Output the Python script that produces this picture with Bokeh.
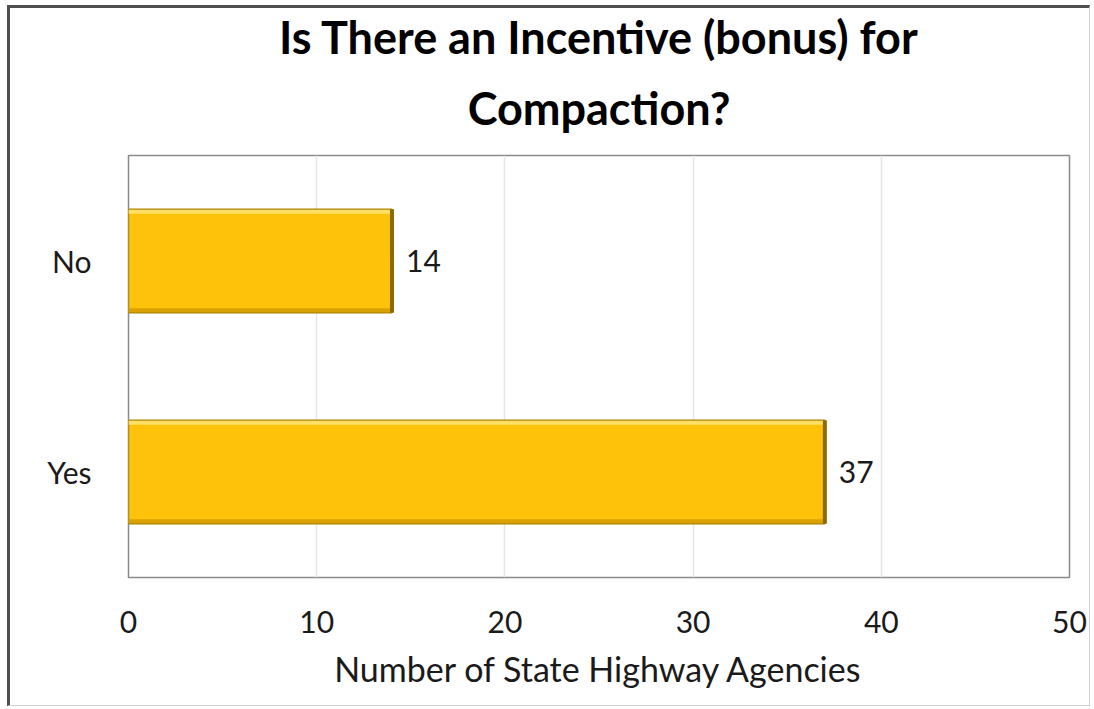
from bokeh.plotting import figure
from bokeh.layouts import column
from bokeh.models import Range1d, FactorRange, Title, FixedTicker, ColumnDataSource
from bokeh.transform import dodge
from bokeh.core.properties import value
from bokeh.embed import file_html
from bokeh.resources import INLINE

title_lines = ["Is There an Incentive (bonus) for", "Compaction?"]
categories = ["Yes", "No"]
counts = [37, 14]
x_ticks = [0, 10, 20, 30, 40, 50]
x_label = "Number of State Highway Agencies"

FONT = "Lato"

src = ColumnDataSource(dict(cat=categories, val=counts, lab=[str(v) for v in counts]))

p = figure(width=1079, height=697, output_backend="svg", toolbar_location=None,
           y_range=FactorRange(*categories), x_range=Range1d(0, 50),
           min_border_left=118, min_border_right=20, min_border_top=147, min_border_bottom=128)

p.add_layout(Title(text=title_lines[1], text_font=FONT, text_font_size="45px",
                   text_font_style="bold", align="center", text_color="#000000", standoff=42), "above")
p.add_layout(Title(text=title_lines[0], text_font=FONT, text_font_size="45px",
                   text_font_style="bold", align="center", text_color="#000000", standoff=-12), "above")

p.background_fill_color = "white"
p.border_fill_color = "white"
p.outline_line_color = "#8a8a8a"
p.outline_line_width = 1.5

p.xgrid.grid_line_color = "#e6e6e6"
p.xgrid.grid_line_width = 1.5
p.ygrid.grid_line_color = None
p.xaxis.ticker = FixedTicker(ticks=x_ticks)

for ax in (p.xaxis[0], p.yaxis[0]):
    ax.axis_line_color = None
    ax.major_tick_line_color = None
    ax.minor_tick_line_color = None
    ax.major_label_text_font = FONT
    ax.major_label_text_font_size = "30px"
    ax.major_label_text_color = "#1a1a1a"

p.xaxis.major_label_standoff = 27
p.xaxis.axis_label = x_label
p.xaxis.axis_label_text_font = FONT
p.xaxis.axis_label_text_font_size = "34px"
p.xaxis.axis_label_text_font_style = "normal"
p.xaxis.axis_label_text_color = "#1a1a1a"
p.xaxis.axis_label_standoff = 12
p.yaxis.major_label_standoff = 31

H = 0.49
p.hbar(y="cat", right="val", left=0, height=H, source=src,
       fill_color="#FFC20A", line_color="#B08400", line_width=1.5)
# bevel edges
p.segment(x0=0, x1="val", y0=dodge("cat", H / 2 - 0.012, range=p.y_range),
          y1=dodge("cat", H / 2 - 0.012, range=p.y_range), source=src,
          line_color="#FFE066", line_width=4)
p.segment(x0=0, x1="val", y0=dodge("cat", -H / 2 + 0.012, range=p.y_range),
          y1=dodge("cat", -H / 2 + 0.012, range=p.y_range), source=src,
          line_color="#D9A200", line_width=4)
p.segment(x0="val", x1="val", y0=dodge("cat", -H / 2, range=p.y_range),
          y1=dodge("cat", H / 2, range=p.y_range), source=src,
          line_color="#8C6A00", line_width=4)

p.text(x="val", y="cat", text="lab", source=src, x_offset=14,
       text_font=value(FONT), text_font_size="30px", text_baseline="middle",
       text_align="left", text_color="#1a1a1a")

layout = column(p, styles={"border-left": "3px solid #505050", "border-top": "3px solid #505050",
                           "border-right": "1px solid #d0d0d0", "border-bottom": "1px solid #d0d0d0",
                           "margin-left": "7px", "margin-top": "5px", "background-color": "white"})

open("out.html", "w").write(file_html(layout, INLINE))
